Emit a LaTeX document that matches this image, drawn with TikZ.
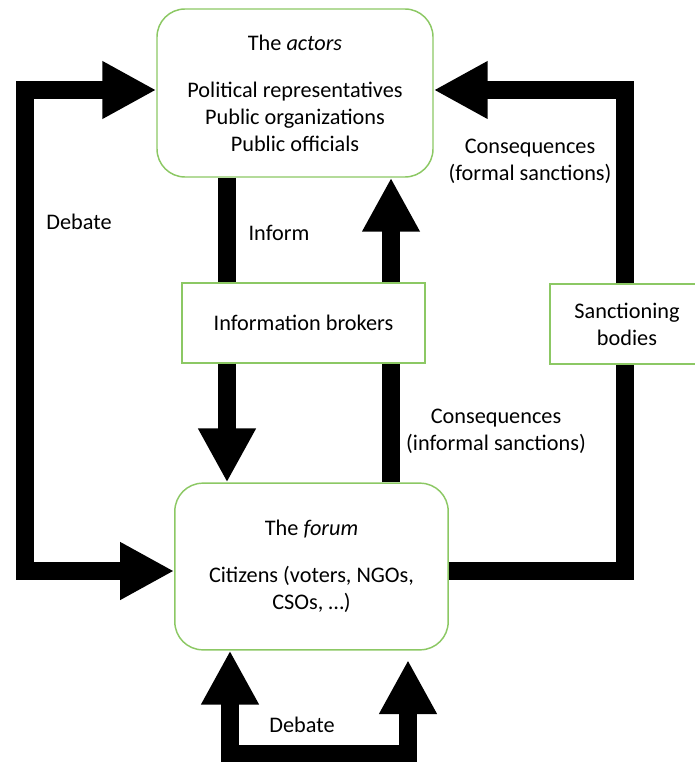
\documentclass[tikz,border=0pt]{standalone}
\usepackage{fontspec}
\setmainfont{Carlito}
\usepackage{tikz}
\usetikzlibrary{arrows.meta}
\definecolor{boxgreen}{RGB}{140,200,100}

\begin{document}
\begin{tikzpicture}[x=0.75pt,y=-0.75pt,
	font=\fontsize{16.7}{20.25}\selectfont,
	bighead/.tip={Triangle[length=40.5pt,width=40.5pt]},
	mainbox/.style={draw=boxgreen,line width=1.1pt,rounded corners=21pt,fill=white,align=center,inner sep=0pt},
	sidebox/.style={draw=boxgreen,line width=1.1pt,fill=white,align=center,inner sep=0pt,minimum height=60pt},
	fat/.style={line width=13.5pt,line join=miter,line cap=butt}]
	\useasboundingbox (0,0) rectangle (694,762);
	\node[mainbox,minimum width=207pt,minimum height=126pt] (actors) at (295,93) {The \textit{actors}\\[15pt]Political representatives\\Public organizations\\Public officials};
	\node[mainbox,minimum width=205pt,minimum height=125pt] (forum) at (311.5,566.5) {The \textit{forum}\\[15pt]Citizens (voters, NGOs,\\CSOs, \dots)};
	\node[sidebox,minimum width=182pt] (brokers) at (303.5,323) {Information brokers};
	\node[sidebox,minimum width=115.5pt] (sanctions) at (627,324) {Sanctioning\\bodies};
	\coordinate (dbtop) at (25,90);
	\coordinate (dbbot) at (25,571);
	\coordinate (inf) at (227,0);
	\coordinate (cons) at (391,0);
	\coordinate (fstop) at (625,90);
	\coordinate (fsbot) at (625,571);
	\coordinate (dleft) at (230,754);
	\coordinate (dright) at (408,754);
	\coordinate (dtip) at (408,660);
	\draw[fat,bighead-bighead] (actors.west |- dbtop) -- (dbtop) -- (dbbot) -- (forum.west |- dbbot);
	\draw[fat] (actors.south -| inf) -- (brokers.north -| inf);
	\draw[fat,-bighead] (brokers.south -| inf) -- (forum.north -| inf);
	\draw[fat] (forum.north -| cons) -- (brokers.south -| cons);
	\draw[fat,-bighead] (brokers.north -| cons) -- (actors.south -| cons);
	\draw[fat] (forum.east |- fsbot) -- (fsbot) -- (sanctions.south -| fsbot);
	\draw[fat,-bighead] (sanctions.north -| fsbot) -- (fstop) -- (actors.east |- fstop);
	\draw[fat,bighead-bighead] (forum.south -| dleft) -- (dleft) -- (dright) -- (dtip);
	\node (debleft) at (79,222) {Debate};
	\node (inform) at (279,233) {Inform};
	\node[align=center] (formal) at (530,161) {Consequences\\(formal sanctions)};
	\node[align=center] (informal) at (496,431) {Consequences\\(informal sanctions)};
	\node (debbottom) at (302,725) {Debate};
\end{tikzpicture}
\end{document}
